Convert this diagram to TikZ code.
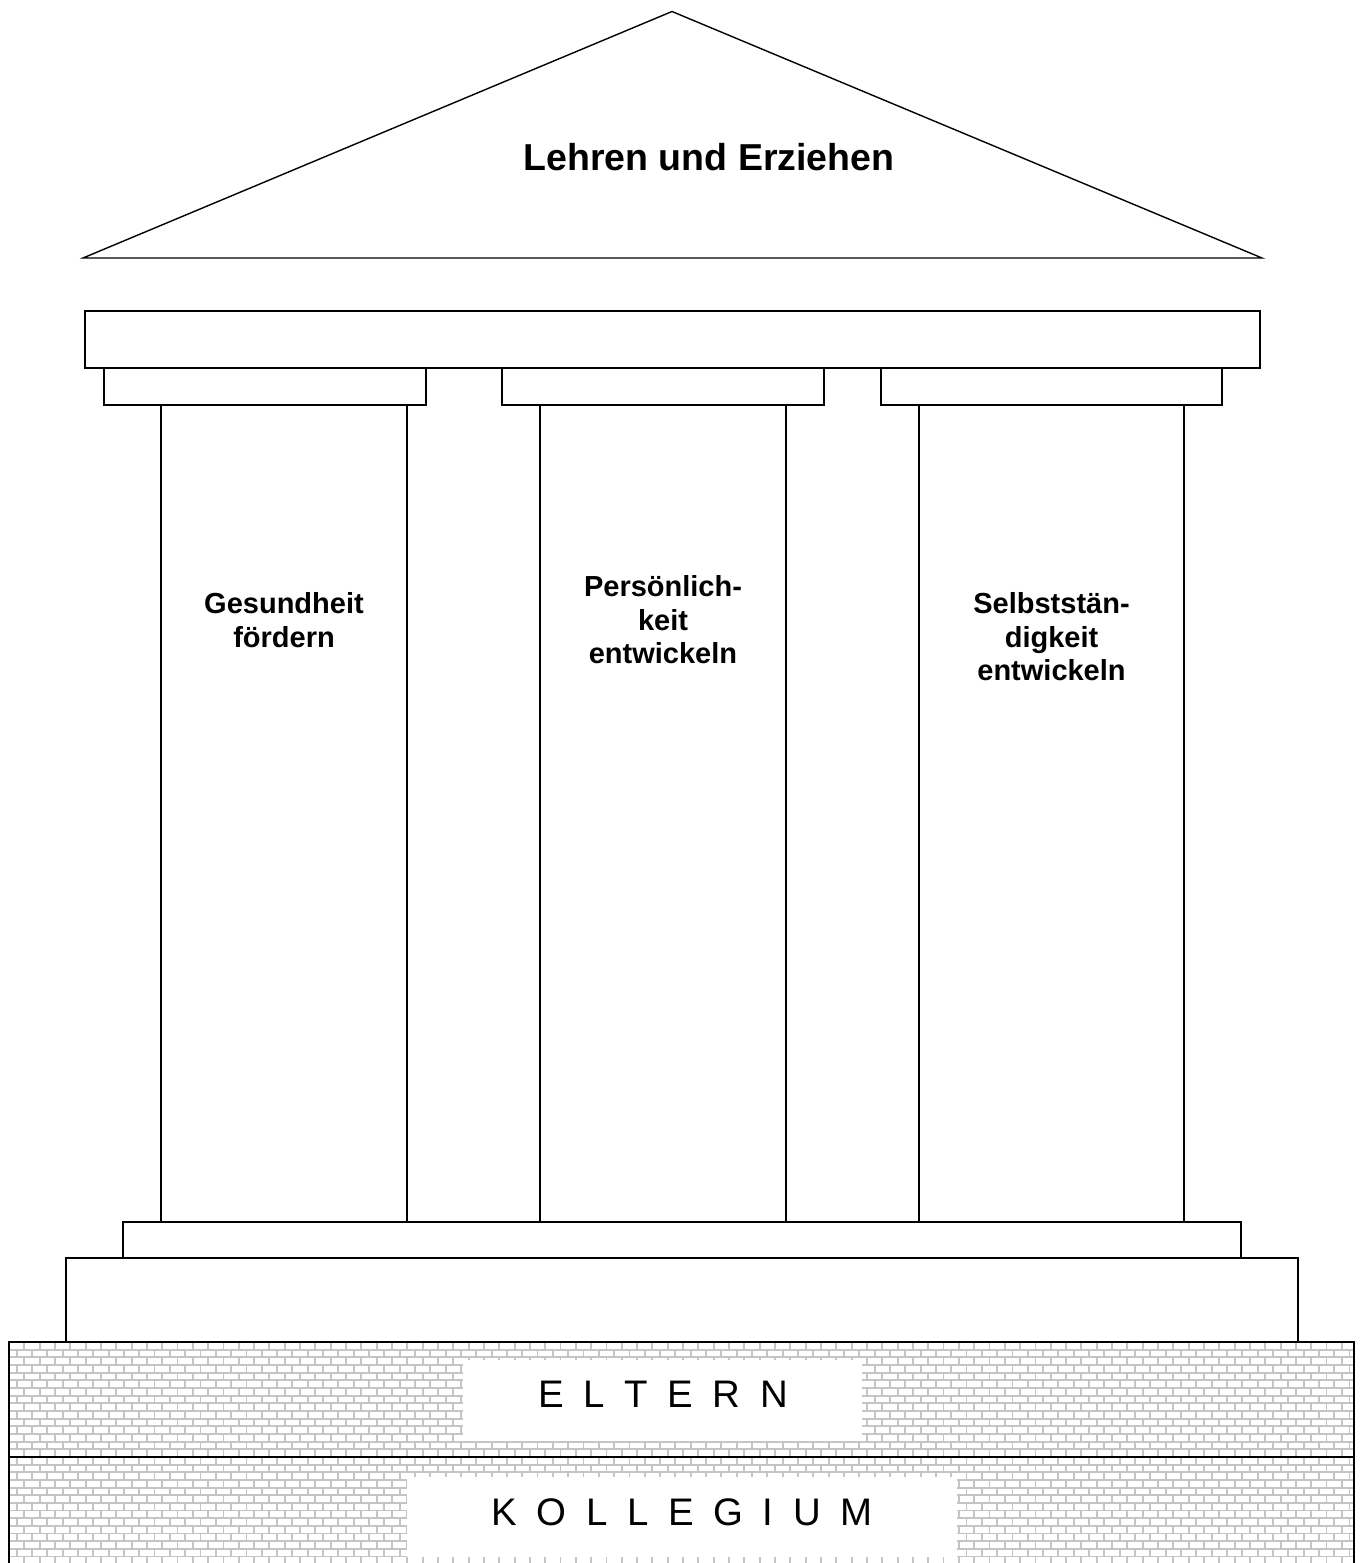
\documentclass[tikz,border=0pt]{standalone}
\usepackage{fontspec}
\setmainfont{Liberation Sans}
\newlength\lsp
\setlength\lsp{19.6pt}
\newcommand\spc{\hspace{\lsp}}
\tikzset{
  outline/.style={draw=black, line width=1.4pt, line join=miter},
  mortar/.style={draw={rgb,255:red,196;green,196;blue,196}, line width=1.9pt},
  titletext/.style={font=\fontsize{37.5}{43}\selectfont\bfseries, inner sep=0pt, anchor=base},
  lab/.style={font=\fontsize{29}{33.4}\selectfont\bfseries, align=center, inner sep=0pt, anchor=north},
  basetext/.style={font=\fontsize{38.4}{44}\selectfont, inner sep=0pt, anchor=base},
}
\begin{document}
\begin{tikzpicture}[x=1pt,y=-1pt]
\useasboundingbox (0,0) rectangle (1364,1563);
% brick foundation
\begin{scope}
  \clip (9,1342) rectangle (1354,1563);
  \draw[mortar] \foreach \r in {0,...,29} { (9,{1342+\r*7.66}) -- (1354,{1342+\r*7.66}) };
  \draw[mortar] \foreach \r in {0,...,28} { \foreach \c in {0,...,88} {
      ({9+\c*15.32+mod(\r,2)*7.66},{1342+\r*7.66}) -- ++(0,7.66) } };
\end{scope}
\fill[white] (463,1360) rectangle (862,1441);
\fill[white] (407,1477) rectangle (957,1557);
\draw[outline] (9,1563) -- (9,1342) -- (1354,1342) -- (1354,1563);
\draw[draw=black, line width=2.2pt] (9,1457) -- (1354,1457);
% roof
\draw[outline] (83,258) -- (672,11.5) -- (1262,258) -- cycle;
% entablature
\draw[outline] (85,311) rectangle (1260,368);
% capitals
\draw[outline] (104,368) rectangle (426,405);
\draw[outline] (502,368) rectangle (824,405);
\draw[outline] (881,368) rectangle (1222,405);
% columns
\draw[outline] (161,405) rectangle (407,1222);
\draw[outline] (540,405) rectangle (786,1222);
\draw[outline] (919,405) rectangle (1184,1222);
% stylobate and base
\draw[outline] (123,1222) rectangle (1241,1258);
\draw[outline] (66,1258) rectangle (1298,1342);
% texts
\node[titletext] (title) at (709,170.7) {Lehren und Erziehen};
\node[lab] (gesund) at (284,590.3) {\rule{0pt}{23.2pt}Gesundheit\\fördern};
\node[lab] (person) at (663,573.5) {\rule{0pt}{23.2pt}Persönlich-\\keit\\entwickeln};
\node[lab] (selbst) at (1051.5,590.3) {\rule{0pt}{23.2pt}Selbststän-\\digkeit\\entwickeln};
\node[basetext] (eltern) at (663,1407.9) {E\spc L\spc T\spc E\spc R\spc N};
\node[basetext] (kollegium) at (682,1525.6) {K\spc O\spc L\spc L\spc E\spc G\spc I\spc U\spc M};
\end{tikzpicture}
\end{document}
